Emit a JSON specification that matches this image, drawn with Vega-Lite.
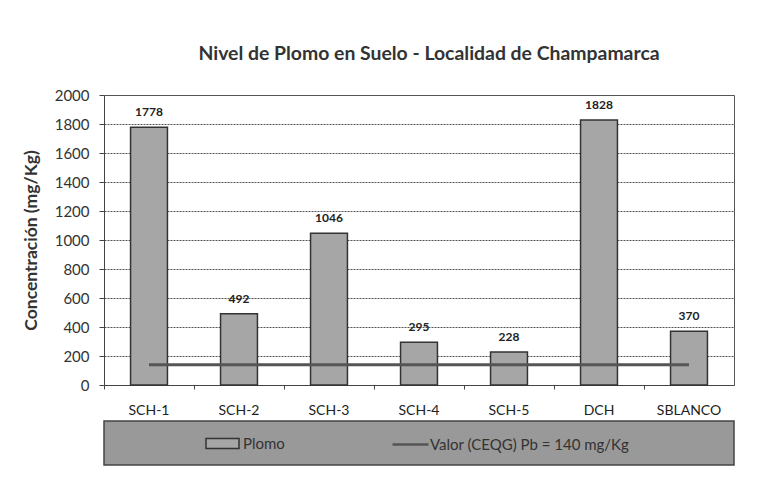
{
  "$schema": "https://vega.github.io/schema/vega-lite/v6.json",
  "background": "white",
  "padding": {"left": 21, "top": 43, "right": 20, "bottom": 10},
  "bounds": "flush",
  "spacing": 36,
  "vconcat": [
    {
      "width": 630,
      "height": 290,
      "title": {
        "text": "Nivel de Plomo en Suelo  -  Localidad de Champamarca",
        "fontSize": 19.4,
        "fontWeight": "bold",
        "font": "Lato",
        "color": "#333333",
        "anchor": "middle",
        "dx": 10,
        "offset": 24
      },
      "data": {
        "values": [
          {"muestra": "SCH-1", "plomo": 1778, "ref": 140},
          {"muestra": "SCH-2", "plomo": 492, "ref": 140},
          {"muestra": "SCH-3", "plomo": 1046, "ref": 140},
          {"muestra": "SCH-4", "plomo": 295, "ref": 140},
          {"muestra": "SCH-5", "plomo": 228, "ref": 140},
          {"muestra": "DCH", "plomo": 1828, "ref": 140},
          {"muestra": "SBLANCO", "plomo": 370, "ref": 140}
        ]
      },
      "encoding": {
        "x": {
          "field": "muestra",
          "type": "nominal",
          "sort": null,
          "title": null,
          "scale": {"paddingInner": 0, "paddingOuter": 0},
          "axis": {
            "labelAngle": 0,
            "labelFontSize": 14,
            "labelPadding": 14,
            "tickSize": 4,
            "bandPosition": 0,
            "domainColor": "#444444",
            "tickColor": "#444444",
            "labelColor": "#222222"
          }
        }
      },
      "layer": [
        {
          "mark": {"type": "bar", "width": {"band": 0.41}, "stroke": "#333333", "strokeWidth": 1.5},
          "encoding": {
            "y": {
              "field": "plomo",
              "type": "quantitative",
              "title": "Concentración (mg/Kg)",
              "scale": {"domain": [0, 2000], "nice": false},
              "axis": {
                "values": [0, 200, 400, 600, 800, 1000, 1200, 1400, 1600, 1800, 2000],
                "format": "d",
                "labelOverlap": false,
                "labelFontSize": 15,
                "labelPadding": 10,
                "tickSize": 5,
                "titleFontSize": 17.5,
                "titleFontWeight": "bold",
                "titlePadding": 14,
                "titleColor": "#333333",
                "labelColor": "#333333",
                "gridColor": "#555555",
                "gridDash": [2, 1],
                "domainColor": "#444444",
                "tickColor": "#444444"
              }
            },
            "fill": {
              "datum": "Plomo",
              "type": "nominal",
              "scale": {"range": ["#a6a6a6"]},
              "legend": {
                "orient": "none",
                "legendX": 101,
                "legendY": 331,
                "title": null,
                "padding": 0,
                "symbolType": "M-1,-0.3H1V0.3H-1Z",
                "symbolSize": 1089,
                "symbolStrokeColor": "#333333",
                "symbolStrokeWidth": 1.5,
                "labelOffset": 3,
                "labelFontSize": 15,
                "labelLimit": 300,
                "labelColor": "#333333"
              }
            }
          }
        },
        {
          "mark": {"type": "text", "dy": -11, "baseline": "alphabetic", "fontWeight": "bold", "fontSize": 12, "color": "#222222"},
          "encoding": {
            "y": {
              "field": "plomo",
              "type": "quantitative",
              "title": "Concentración (mg/Kg)",
              "axis": {
                "values": [0, 200, 400, 600, 800, 1000, 1200, 1400, 1600, 1800, 2000],
                "format": "d",
                "labelOverlap": false,
                "labelFontSize": 15,
                "labelPadding": 10,
                "tickSize": 5,
                "titleFontSize": 17.5,
                "titleFontWeight": "bold",
                "titlePadding": 14,
                "titleColor": "#333333",
                "labelColor": "#333333",
                "gridColor": "#555555",
                "gridDash": [2, 1],
                "domainColor": "#444444",
                "tickColor": "#444444"
              }
            },
            "text": {"field": "plomo", "type": "quantitative", "format": "d"}
          }
        },
        {
          "mark": {"type": "line", "strokeWidth": 3},
          "encoding": {
            "y": {
              "field": "ref",
              "type": "quantitative",
              "title": "Concentración (mg/Kg)",
              "axis": {
                "values": [0, 200, 400, 600, 800, 1000, 1200, 1400, 1600, 1800, 2000],
                "format": "d",
                "labelOverlap": false,
                "labelFontSize": 15,
                "labelPadding": 10,
                "tickSize": 5,
                "titleFontSize": 17.5,
                "titleFontWeight": "bold",
                "titlePadding": 14,
                "titleColor": "#333333",
                "labelColor": "#333333",
                "gridColor": "#555555",
                "gridDash": [2, 1],
                "domainColor": "#444444",
                "tickColor": "#444444"
              }
            },
            "stroke": {
              "datum": "Valor (CEQG) Pb = 140 mg/Kg",
              "type": "nominal",
              "scale": {"range": ["#555555"]},
              "legend": {
                "orient": "none",
                "legendX": 287,
                "legendY": 330,
                "title": null,
                "padding": 0,
                "symbolType": "stroke",
                "symbolSize": 1296,
                "symbolStrokeWidth": 2.5,
                "labelOffset": 0,
                "labelFontSize": 15,
                "labelLimit": 300,
                "labelColor": "#333333"
              }
            }
          }
        }
      ]
    },
    {
      "width": 630,
      "height": 44,
      "data": {"values": []},
      "mark": {"type": "point", "opacity": 0},
      "view": {"fill": "#999999", "stroke": "#444444", "strokeWidth": 1.5}
    }
  ],
  "config": {
    "font": "Lato",
    "view": {"stroke": "#555555", "strokeWidth": 1},
    "axis": {"labelFont": "Lato", "titleFont": "Lato"},
    "legend": {"labelFont": "Lato"}
  }
}
